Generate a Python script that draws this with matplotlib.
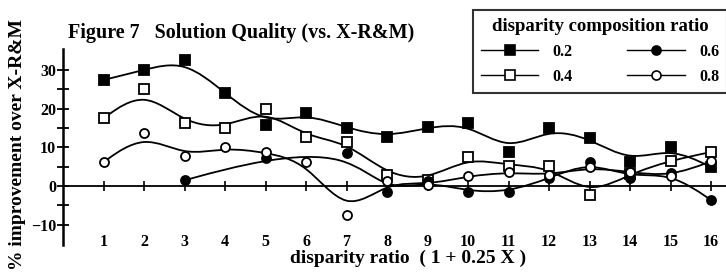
from matplotlib import pyplot as plt
from matplotlib.path import Path
from matplotlib.patches import PathPatch
from matplotlib.lines import Line2D
import numpy as np

plt.rcParams['font.family'] = ['Liberation Serif', 'DejaVu Serif']
plt.rcParams['font.weight'] = 'bold'

# disparity ratio index
x_all = [1, 2, 3, 4, 5, 6, 7, 8, 9, 10, 11, 12, 13, 14, 15, 16]
x_06 = [3, 5, 7, 8, 9, 10, 11, 12, 13, 14, 15, 16]

# % improvement over X-R&M
y_02 = [27.4, 30.0, 32.6, 24.0, 15.9, 18.9, 15.0, 12.6, 15.2, 16.2, 8.9, 14.9, 12.4, 6.2, 10.0, 4.9]
y_04 = [17.5, 25.0, 16.2, 14.9, 20.0, 12.6, 11.5, 2.9, 1.5, 7.5, 5.3, 5.1, -2.4, 3.2, 6.6, 8.8]
y_06 = [1.5, 7.2, 8.5, -1.4, 1.3, -1.4, -1.5, 2.0, 6.3, 2.2, 3.5, -3.6]
y_08 = [6.2, 13.6, 7.7, 10.0, 8.7, 6.3, -7.5, 1.2, 0.3, 2.6, 3.6, 2.8, 4.9, 3.6, 2.5, 6.4]

labels = ['0.2', '0.4', '0.6', '0.8']
xticks = x_all
yticks_major = [-10, 0, 10, 20, 30]
yticks_minor = [-5, 5, 15, 25]


def smooth_path(xs, ys):
    # uniform cubic b-spline with the data as control points (like the old "smooth" option)
    p = np.column_stack([xs, ys]).astype(float)
    p = np.vstack([p[:1], p[:1], p, p[-1:], p[-1:]])
    verts = [(p[0] + 4 * p[1] + p[2]) / 6]
    codes = [Path.MOVETO]
    for i in range(1, len(p) - 2):
        verts += [(2 * p[i] + p[i + 1]) / 3, (p[i] + 2 * p[i + 1]) / 3,
                  (p[i] + 4 * p[i + 1] + p[i + 2]) / 6]
        codes += [Path.CURVE4] * 3
    return Path(verts, codes)


fig = plt.figure(figsize=(7.26, 2.8), dpi=100)
ax = fig.add_axes([63 / 726, 35 / 280, 663 / 726, 196 / 280])

series = [
    (x_all, y_02, 's', 'black', 7),
    (x_all, y_04, 's', 'white', 7),
    (x_06, y_06, 'o', 'black', 6.5),
    (x_all, y_08, 'o', 'white', 6.5),
]

handles = []
for (xs, ys, m, fc, ms), lab in zip(series, labels):
    ax.add_patch(PathPatch(smooth_path(xs, ys), fc='none', ec='black', lw=1.3))
    ax.plot(xs, ys, ls='none', marker=m, mfc=fc, mec='black', mew=1.3, ms=ms, zorder=3)
    handles.append(Line2D([], [], color='black', lw=1.0, marker=m, mfc=fc, mec='black',
                          mew=1.2, ms=ms))

ax.set_xlim(0, 16.37)
ax.set_ylim(-15.2, 35.4)

for s in ['top', 'right']:
    ax.spines[s].set_visible(False)
ax.spines['bottom'].set_position(('data', 0))
ax.spines['bottom'].set_linewidth(1.3)
ax.spines['left'].set_linewidth(1.8)

ax.set_xticks(xticks)
ax.set_xticklabels([str(v) for v in xticks])
ax.set_yticks(yticks_major)
ax.set_yticks(yticks_minor, minor=True)
ax.tick_params(axis='x', direction='inout', length=7, width=1.2, pad=31, labelsize=11.5)
ax.tick_params(axis='y', which='both', direction='inout', length=8, width=1.3, pad=1, labelsize=11.5)

fig.text(68 / 726, 1 - 33 / 280, 'Figure 7   Solution Quality (vs. X-R&M)', fontsize=14.5,
         fontweight='bold', ha='left', va='center')
fig.text(18 / 726, 1 - 145 / 280, '% improvement over X-R&M', fontsize=14,
         fontweight='bold', rotation=90, ha='center', va='center')
fig.text(408 / 726, 1 - 258 / 280, 'disparity ratio  ( 1 + 0.25 X )', fontsize=14,
         fontweight='bold', ha='center', va='center')

leg = fig.legend(handles, labels, ncol=2, loc='upper left',
                 bbox_to_anchor=(473 / 726, 1 - 10 / 280),
                 title='disparity composition ratio', fontsize=11.5,
                 title_fontproperties={'weight': 'bold', 'size': 13.5},
                 handlelength=3.6, handletextpad=0.9, columnspacing=3.4,
                 borderpad=0.5, labelspacing=0.55, fancybox=False, frameon=True,
                 borderaxespad=0)
leg.get_frame().set_edgecolor('black')
leg.get_frame().set_linewidth(1.5)

fig.savefig('out.png', dpi=100)
